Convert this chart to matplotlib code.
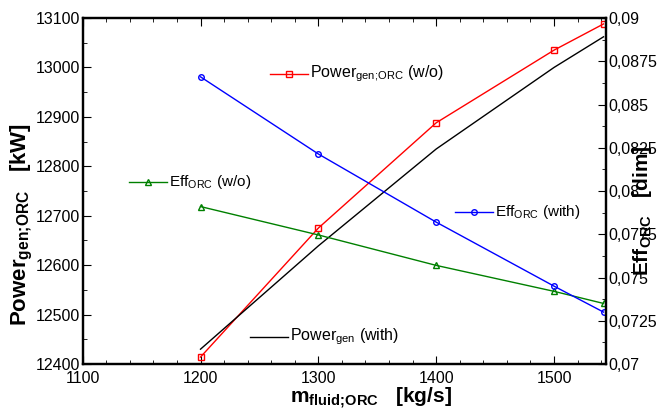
import matplotlib
matplotlib.use("Agg")
import matplotlib.pyplot as plt
from matplotlib.ticker import MultipleLocator, FixedLocator

plt.rcParams['font.family'] = ['Liberation Sans', 'DejaVu Sans']
plt.rcParams['mathtext.fontset'] = 'custom'
plt.rcParams['mathtext.rm'] = 'Liberation Sans'
plt.rcParams['mathtext.bf'] = 'Liberation Sans:bold'

# data
m_fluid = [1200, 1300, 1400, 1500, 1542]
power_wo = [12414, 12675, 12888, 13035, 13088]
power_with = [12430, 12639, 12835, 13000, 13062]
eff_wo = [0.0791, 0.07746, 0.0757, 0.0742, 0.0735]
eff_with = [0.0866, 0.08214, 0.0782, 0.0745, 0.0730]

left_ticks = [12400, 12500, 12600, 12700, 12800, 12900, 13000, 13100]
right_ticks = [0.07, 0.0725, 0.075, 0.0775, 0.08, 0.0825, 0.085, 0.0875, 0.09]
right_labels = ['0,07', '0,0725', '0,075', '0,0775', '0,08', '0,0825', '0,085', '0,0875', '0,09']
x_ticks = [1100, 1200, 1300, 1400, 1500]

fig = plt.figure(figsize=(6.64, 4.12), dpi=100)
ax = fig.add_axes([0.1245, 0.1165, 0.788, 0.8398])
ax2 = ax.twinx()

ax.plot(m_fluid, power_wo, color='red', lw=1, marker='s', ms=5, mfc='none', mew=1)
ax.plot(m_fluid, power_with, color='black', lw=1)
ax2.plot(m_fluid, eff_wo, color='green', lw=1, marker='^', ms=5, mfc='none', mew=1)
ax2.plot(m_fluid, eff_with, color='blue', lw=1, marker='o', ms=4, mfc='none', mew=1)

ax.set_xlim(1100, 1544)
ax.set_ylim(12400, 13100)
ax2.set_ylim(0.07, 0.09)

ax.set_xticks(x_ticks)
ax.xaxis.set_minor_locator(MultipleLocator(20))
ax.set_yticks(left_ticks)
ax.yaxis.set_minor_locator(MultipleLocator(50))
ax2.yaxis.set_major_locator(FixedLocator(right_ticks))
ax2.set_yticklabels(right_labels)
ax2.yaxis.set_minor_locator(MultipleLocator(0.00125))

ax.tick_params(axis='x', which='both', direction='in', top=True, labelsize=11.5, pad=5)
ax.tick_params(axis='x', which='major', length=6)
ax.tick_params(axis='x', which='minor', length=3)
ax.tick_params(axis='y', which='both', direction='in', labelsize=11.5, pad=2)
ax.tick_params(axis='y', which='major', length=6)
ax.tick_params(axis='y', which='minor', length=3)
ax2.tick_params(axis='y', which='both', direction='in', labelsize=11.5, pad=2)
ax2.tick_params(axis='y', which='major', length=6)
ax2.tick_params(axis='y', which='minor', length=3)

for a in (ax, ax2):
    for s in a.spines.values():
        s.set_linewidth(1.6)

# axis titles
fig.text(0.559, 0.022, r'm$_{\mathbf{fluid;\!ORC}}$   [kg/s]', fontsize=15, fontweight='bold',
         ha='center', va='baseline')
fig.text(0.033, 0.456, r'Power$_{\mathbf{gen;\!ORC}}$   [kW]', fontsize=16, fontweight='bold',
         ha='center', va='center', rotation=90)
fig.text(0.968, 0.488, r'Eff$_{\mathbf{ORC}}$   [dim]', fontsize=15, fontweight='bold',
         ha='center', va='center', rotation=90)

# inline legend entries
def key(x0, x1, y, color, marker, text, size):
    ax.plot([x0, x1], [y, y], color=color, lw=1, transform=ax.transAxes, clip_on=False)
    if marker:
        ax.plot([(x0 + x1) / 2], [y], color=color, marker=marker, ms=5 if marker != 'o' else 4,
                mfc='none', mew=1, transform=ax.transAxes, clip_on=False)
    ax.text(x1 + 0.004, y, text, transform=ax.transAxes, fontsize=size, va='center', ha='left')

key(0.358, 0.431, 0.838, 'red', 's', r'Power$_{\mathregular{gen;\!ORC}}$ (w/o)', 11.5)
key(0.089, 0.161, 0.526, 'green', '^', r'Eff$_{\mathregular{ORC}}$ (w/o)', 11)
key(0.712, 0.784, 0.439, 'blue', 'o', r'Eff$_{\mathregular{ORC}}$ (with)', 11)
key(0.320, 0.393, 0.078, 'black', None, r'Power$_{\mathregular{gen}}$ (with)', 11.5)

fig.savefig('out.png', dpi=100)
